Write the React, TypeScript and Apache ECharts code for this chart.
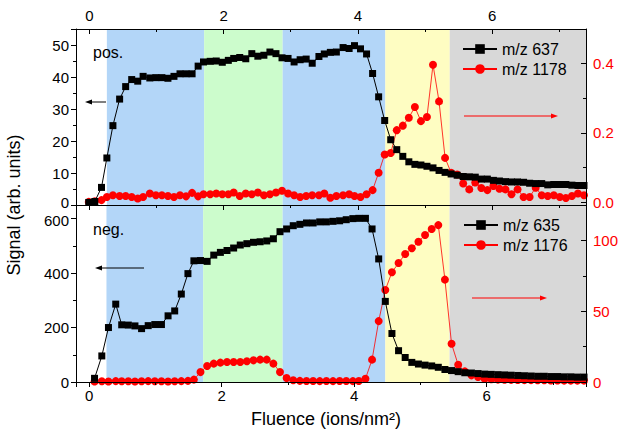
import React, { useEffect, useRef } from 'react';
import * as echarts from 'echarts';

const FONT = '"Liberation Sans", Arial, Helvetica, sans-serif';

// ---------- Top panel (positive ions) ----------
const topFluence = [
  -0.01, 0.08, 0.18, 0.26, 0.35, 0.45, 0.54, 0.63, 0.72, 0.8, 0.9, 0.99, 1.08, 1.17, 1.26, 1.35,
  1.44, 1.53, 1.62, 1.7, 1.8, 1.89, 1.98, 2.07, 2.15, 2.24, 2.33, 2.42, 2.51, 2.6, 2.69, 2.78,
  2.87, 2.96, 3.05, 3.14, 3.23, 3.32, 3.42, 3.5, 3.59, 3.68, 3.78, 3.87, 3.95, 4.04, 4.13, 4.22,
  4.31, 4.4, 4.49, 4.58, 4.67, 4.76, 4.85, 4.94, 5.03, 5.12, 5.21, 5.3, 5.39, 5.48, 5.57, 5.66,
  5.75, 5.84, 5.93, 6.02, 6.11, 6.2, 6.29, 6.38, 6.47, 6.56, 6.65, 6.74, 6.83, 6.92, 7.01, 7.1,
  7.19, 7.28, 7.37,
];
const topSignal637 = [
  0.8, 1.1, 5.5, 14.7, 24.8, 33.1, 37.0, 39.2, 38.7, 40.2, 39.7, 39.8, 39.8, 39.6, 40.2, 41.0,
  41.0, 41.0, 43.4, 44.7, 44.9, 45.0, 44.6, 45.2, 45.8, 46.1, 45.7, 47.3, 46.5, 46.8, 47.8, 47.3,
  46.0, 45.8, 44.7, 45.4, 45.6, 44.3, 46.4, 47.2, 47.7, 47.8, 49.2, 48.9, 49.8, 48.8, 47.2, 41.1,
  33.8, 26.4, 20.4, 17.3, 15.2, 13.5, 12.7, 12.5, 12.1, 11.6, 10.8, 10.2, 9.7, 9.3, 8.9, 8.8,
  8.7, 8.1, 8.1, 7.7, 7.5, 7.3, 7.2, 7.2, 7.1, 6.8, 6.7, 6.7, 6.3, 6.4, 6.4, 6.4,
  6.2, 6.1, 6.1,
];
const topSignal1178 = [
  0.001, 0.003, 0.006, 0.015, 0.02, 0.018, 0.018, 0.015, 0.011, 0.015, 0.025, 0.02, 0.02, 0.018, 0.015, 0.02,
  0.017, 0.027, 0.017, 0.023, 0.023, 0.025, 0.023, 0.023, 0.028, 0.018, 0.025, 0.023, 0.028, 0.02, 0.023, 0.028,
  0.033, 0.025, 0.02, 0.015, 0.018, 0.02, 0.02, 0.025, 0.013, 0.018, 0.02, 0.023, 0.018, 0.015, 0.023, 0.035,
  0.085, 0.138, 0.142, 0.208, 0.221, 0.244, 0.275, 0.234, 0.246, 0.397, 0.291, 0.128, 0.085, 0.08, 0.054, 0.037,
  0.057, 0.041, 0.035, 0.047, 0.039, 0.037, 0.023, 0.037, 0.015, 0.015, 0.042, 0.02, 0.018, 0.02, 0.015, 0.012,
  0.018, 0.025, 0.02,
];

// ---------- Bottom panel (negative ions) ----------
const bottomFluence = [
  0.08, 0.19, 0.29, 0.4, 0.49, 0.59, 0.69, 0.79, 0.89, 0.99, 1.09, 1.19, 1.29, 1.39, 1.49, 1.58,
  1.68, 1.78, 1.88, 1.98, 2.08, 2.18, 2.28, 2.38, 2.48, 2.58, 2.68, 2.78, 2.88, 2.98, 3.08, 3.18,
  3.28, 3.38, 3.48, 3.58, 3.68, 3.78, 3.88, 3.98, 4.07, 4.17, 4.27, 4.37, 4.47, 4.57, 4.67, 4.77,
  4.87, 4.97, 5.07, 5.17, 5.27, 5.37, 5.47, 5.57, 5.67, 5.77, 5.87, 5.97, 6.07, 6.17, 6.27, 6.37,
  6.47, 6.57, 6.67, 6.77, 6.87, 6.97, 7.07, 7.17, 7.27, 7.37, 7.47,
];
const bottomSignal635 = [
  13.5, 95.7, 200, 286, 210, 209, 206, 196, 207, 211, 211, 243, 261, 323, 398, 445,
  446, 443, 466, 476, 483, 492, 503, 508, 513, 515, 518, 526, 552, 562, 574, 579,
  584, 584, 588, 588, 590, 592, 596, 600, 601, 601, 562, 452, 296, 178, 115, 90,
  72, 66, 62, 59, 54, 46, 42, 38, 34, 33, 31, 29, 28, 27, 26, 25,
  24, 23, 22, 21, 21, 20, 20, 19, 19, 18, 18,
];
const bottomSignal1176 = [
  0.4, 0.5, 0.4, 0.6, 0.5, 0.5, 0.4, 0.5, 0.6, 0.5, 0.5, 0.4, 0.5, 0.6, 0.8, 1.7,
  7.0, 11.3, 13.0, 13.7, 14.1, 14.1, 14.1, 14.6, 15.3, 15.8, 15.8, 13.0, 7.0, 2.8, 1.2, 0.8,
  0.7, 0.7, 0.6, 0.7, 0.6, 0.7, 0.7, 0.6, 0.7, 2.3, 15.8, 43, 65, 77.5, 84, 90.4,
  94.4, 99, 103.8, 108, 110.8, 72.3, 27, 12.2, 7.5, 4.7, 3.5, 2.3, 1.9, 1.7, 1.6, 1.5,
  1.4, 1.3, 1.3, 1.2, 1.2, 1.1, 1.1, 1.0, 1.0, 1.0, 1.0,
];

// Background band edges (fluence) for each panel's own x scale
const topBandEdges = [0.26, 1.71, 2.88, 4.41, 5.37, 7.4];
const bottomBandEdges = [0.26, 1.72, 2.92, 4.47, 5.44, 7.5];
const bandColors = ['#b3d6f8', '#ccfccc', '#fefdc2', '#d8d8d8'];
const bandColorSeq = [bandColors[0], bandColors[1], bandColors[0], bandColors[2], bandColors[3]];

const BLACK = '#000000';
const RED = '#ff0000';

function pairs(xs: number[], ys: number[]) {
  return xs.map((x, i) => [x, ys[i]]);
}

function bands(edges: number[]) {
  const out: any[] = [];
  for (let i = 0; i < edges.length - 1; i++) {
    out.push([
      { xAxis: edges[i], itemStyle: { color: bandColorSeq[i], opacity: 1 } },
      { xAxis: edges[i + 1] },
    ]);
  }
  return out;
}

function arrow(x1: number, y: number, x2: number, color: string) {
  const dir = x2 > x1 ? 1 : -1;
  const head = 7;
  return [
    {
      type: 'line',
      z: 10,
      shape: { x1, y1: y, x2: x2 - dir * head * 0.8, y2: y },
      style: { stroke: color, lineWidth: 1 },
    },
    {
      type: 'polygon',
      z: 10,
      shape: {
        points: [
          [x2, y],
          [x2 - dir * head, y - 2.5],
          [x2 - dir * head, y + 2.5],
        ],
      },
      style: { fill: color },
    },
  ];
}

const labelBase = { fontFamily: FONT, fontSize: 15, color: BLACK, lineHeight: 13 };
const tickStyle = { color: BLACK, width: 1 };

function xAxisCfg(gridIndex: number, position: string, max: number, showLabels: boolean, inside: boolean) {
  return {
    type: 'value',
    gridIndex,
    position,
    min: -0.2,
    max,
    splitNumber: 4,
    z: 5,
    axisLine: { show: true, onZero: false, lineStyle: { color: BLACK, width: 1 } },
    axisTick: { show: true, inside, length: 5, lineStyle: tickStyle },
    minorTick: { show: true, splitNumber: 2, length: 3, lineStyle: tickStyle },
    axisLabel: {
      show: showLabels,
      ...labelBase,
      margin: 7,
      showMinLabel: false,
      showMaxLabel: false,
      formatter: (v: number) => String(v),
    },
    splitLine: { show: false },
    minorSplitLine: { show: false },
  };
}

function yAxisCfg(
  gridIndex: number,
  position: string,
  min: number,
  max: number,
  interval: number | undefined,
  splitNumber: number | undefined,
  color: string,
  inside: boolean,
  formatter: (v: number) => string,
  showMinLabel: boolean,
) {
  const cfg: any = {
    type: 'value',
    gridIndex,
    position,
    min,
    max,
    z: 5,
    axisLine: { show: true, onZero: false, lineStyle: { color: BLACK, width: 1 } },
    axisTick: { show: true, inside, length: 5, lineStyle: tickStyle },
    minorTick: { show: true, splitNumber: 2, length: 3, lineStyle: tickStyle },
    axisLabel: {
      ...labelBase,
      color,
      margin: 7,
      showMinLabel,
      showMaxLabel: false,
      formatter,
      rich: {
        up: { fontFamily: FONT, fontSize: 15, color, lineHeight: 13, padding: [0, 0, 6, 0] },
        down: { fontFamily: FONT, fontSize: 15, color, lineHeight: 13, padding: [4, 0, 0, 0] },
      },
    },
    splitLine: { show: false },
    minorSplitLine: { show: false },
  };
  if (interval !== undefined) cfg.interval = interval;
  if (splitNumber !== undefined) cfg.splitNumber = splitNumber;
  return cfg;
}

const option: any = {
  animation: false,
  backgroundColor: '#ffffff',
  textStyle: { fontFamily: FONT },
  grid: [
    { left: 76, right: 38, top: 29, height: 176 },
    { left: 76, right: 38, top: 205, height: 177 },
  ],
  xAxis: [
    xAxisCfg(0, 'top', 7.4, true, true),
    xAxisCfg(0, 'bottom', 7.4, false, false),
    xAxisCfg(1, 'bottom', 7.5, true, false),
  ],
  yAxis: [
    yAxisCfg(0, 'left', 0, 55, 10, undefined, BLACK, false, (v) => (v === 0 ? '{up|0}' : String(v)), true),
    yAxisCfg(0, 'right', -0.008, 0.5, undefined, 3, RED, true, (v) => v.toFixed(1), false),
    yAxisCfg(1, 'left', 0, 650, 200, undefined, BLACK, false, (v) => (v === 600 ? '{down|600}' : String(v)), true),
    yAxisCfg(1, 'right', 0, 125, 50, undefined, RED, true, (v) => String(v), true),
  ],
  legend: [
    {
      data: ['m/z 637', 'm/z 1178'],
      orient: 'vertical',
      left: 462,
      top: 41,
      padding: 0,
      itemWidth: 34,
      itemHeight: 12,
      itemGap: 4,
      selectedMode: false,
      textStyle: { fontFamily: FONT, fontSize: 16, color: BLACK },
    },
    {
      data: ['m/z 635', 'm/z 1176'],
      orient: 'vertical',
      left: 463,
      top: 217,
      padding: 0,
      itemWidth: 34,
      itemHeight: 12,
      itemGap: 4,
      selectedMode: false,
      textStyle: { fontFamily: FONT, fontSize: 16, color: BLACK },
    },
  ],
  series: [
    {
      name: 'm/z 1178',
      type: 'line',
      xAxisIndex: 0,
      yAxisIndex: 1,
      z: 2,
      data: pairs(topFluence, topSignal1178),
      symbol: 'circle',
      symbolSize: 8,
      itemStyle: { color: RED },
      lineStyle: { color: RED, width: 0.8 },
      markArea: { silent: true, data: bands(topBandEdges) },
    },
    {
      name: 'm/z 637',
      type: 'line',
      xAxisIndex: 0,
      yAxisIndex: 0,
      z: 3,
      data: pairs(topFluence, topSignal637),
      symbol: 'rect',
      symbolSize: 7,
      itemStyle: { color: BLACK },
      lineStyle: { color: BLACK, width: 1 },
    },
    {
      name: 'm/z 1176',
      type: 'line',
      xAxisIndex: 2,
      yAxisIndex: 3,
      z: 2,
      data: pairs(bottomFluence, bottomSignal1176),
      symbol: 'circle',
      symbolSize: 8,
      itemStyle: { color: RED },
      lineStyle: { color: RED, width: 0.8 },
      markArea: { silent: true, data: bands(bottomBandEdges) },
    },
    {
      name: 'm/z 635',
      type: 'line',
      xAxisIndex: 2,
      yAxisIndex: 2,
      z: 3,
      data: pairs(bottomFluence, bottomSignal635),
      symbol: 'rect',
      symbolSize: 7,
      itemStyle: { color: BLACK },
      lineStyle: { color: BLACK, width: 1 },
    },
  ],
  graphic: [
    {
      type: 'text',
      z: 10,
      x: 14,
      y: 205,
      rotation: Math.PI / 2,
      style: {
        text: 'Signal (arb. units)',
        fontFamily: FONT,
        fontSize: 18,
        fill: BLACK,
        textAlign: 'center',
        textVerticalAlign: 'middle',
      },
    },
    {
      type: 'text',
      z: 10,
      x: 326,
      y: 419,
      style: {
        text: 'Fluence (ions/nm²)',
        fontFamily: FONT,
        fontSize: 18,
        fill: BLACK,
        textAlign: 'center',
        textVerticalAlign: 'middle',
      },
    },
    {
      type: 'text',
      z: 10,
      x: 93,
      y: 52,
      style: { text: 'pos.', fontFamily: FONT, fontSize: 16, fill: BLACK, textAlign: 'left', textVerticalAlign: 'middle' },
    },
    {
      type: 'text',
      z: 10,
      x: 93,
      y: 229,
      style: { text: 'neg.', fontFamily: FONT, fontSize: 16, fill: BLACK, textAlign: 'left', textVerticalAlign: 'middle' },
    },
    ...arrow(106, 102, 85, BLACK),
    ...arrow(464, 116, 558, RED),
    ...arrow(144, 268, 95, BLACK),
    ...arrow(472, 298, 547, RED),
  ],
};

export default function App() {
  const ref = useRef<HTMLDivElement>(null);
  useEffect(() => {
    if (!ref.current) return;
    const chart = echarts.init(ref.current, null, { renderer: 'svg' });
    chart.setOption(option);
    return () => {
      chart.dispose();
    };
  }, []);
  return (
    <div
      ref={ref}
      style={{ position: 'fixed', left: 0, top: 0, width: 624, height: 440, background: '#fff' }}
    />
  );
}
